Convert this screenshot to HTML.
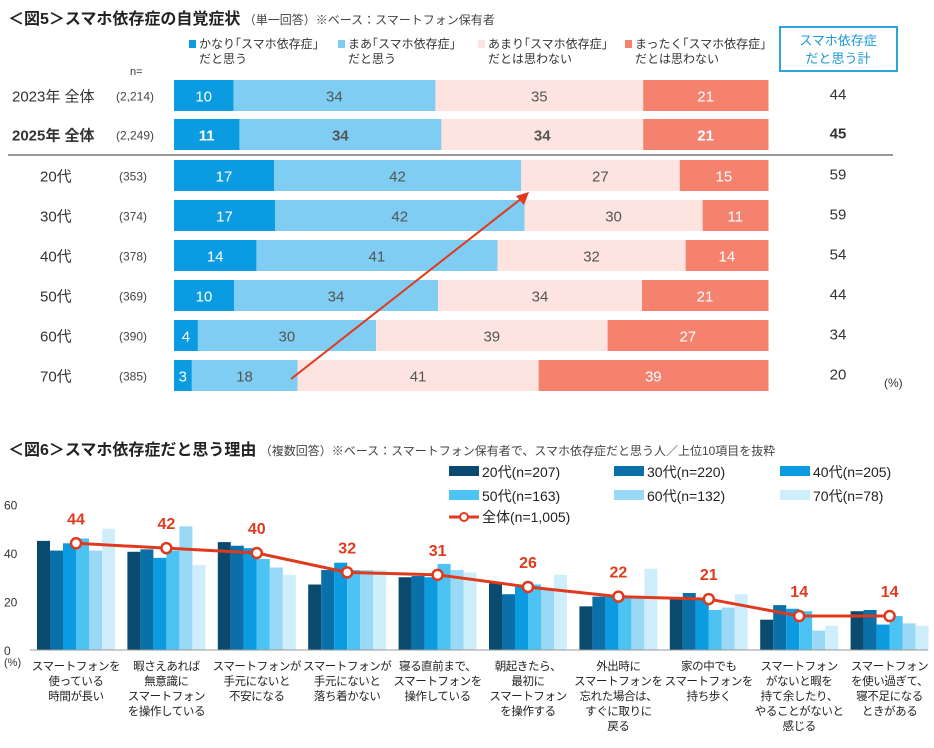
<!DOCTYPE html>
<html><head><meta charset="utf-8"><style>
body{margin:0;background:#fff;}
svg{display:block;font-family:"Liberation Sans","Noto Sans CJK JP",sans-serif;}
</style></head><body>
<svg id="s" width="934" height="748" viewBox="0 0 934 748" xmlns="http://www.w3.org/2000/svg">
<text x="8" y="24" font-size="16" font-weight="bold" fill="#222">＜図5＞スマホ依存症の自覚症状<tspan font-size="12" font-weight="normal" fill="#444"> （単一回答）※ベース：スマートフォン保有者</tspan></text>
<rect x="780" y="27" width="117" height="44" fill="#fff" stroke="#2aa6dc" stroke-width="2"/>
<text x="838" y="45" font-size="13" fill="#1a9ad6" text-anchor="middle">スマホ依存症</text>
<text x="838" y="63" font-size="13" fill="#1a9ad6" text-anchor="middle">だと思う計</text>
<g font-size="12" fill="#333">
<rect x="189" y="40" width="7" height="8" fill="#0a9be0"/><text x="199" y="48">かなり｢スマホ依存症｣</text><text x="199" y="63">だと思う</text>
<rect x="338" y="40" width="7" height="8" fill="#7fcdf2"/><text x="348" y="48">まあ｢スマホ依存症｣</text><text x="348" y="63">だと思う</text>
<rect x="478" y="40" width="7" height="8" fill="#fde4e0"/><text x="488" y="48">あまり｢スマホ依存症｣</text><text x="488" y="63">だとは思わない</text>
<rect x="625" y="40" width="7" height="8" fill="#f4826e"/><text x="635" y="48">まったく｢スマホ依存症｣</text><text x="635" y="63">だとは思わない</text>
<text x="130" y="75" font-size="11">n=</text>
</g>
<line x1="8" y1="155" x2="893" y2="155" stroke="#999" stroke-width="2"/>
<g id="tp"></g>
<g id="bot"></g>
<text x="884" y="387" font-size="12" fill="#333">(%)</text>
<g id="arrow"></g>
<text x="8" y="455" font-size="16" font-weight="bold" fill="#222">＜図6＞スマホ依存症だと思う理由<tspan font-size="12" font-weight="normal" fill="#444"> （複数回答）※ベース：スマートフォン保有者で、スマホ依存症だと思う人／上位10項目を抜粋</tspan></text>
</svg>
<script>
(function(){
const NS="http://www.w3.org/2000/svg";
function el(p,t,a,txt){const e=document.createElementNS(NS,t);for(const k in a)e.setAttribute(k,a[k]);if(txt!==undefined)e.textContent=txt;p.appendChild(e);return e;}
const tp=document.getElementById('tp');
const rows=[["2023年 全体","(2,214)",[10,34,35,21],44,80,false],["2025年 全体","(2,249)",[11,34,34,21],45,119,true],
["20代","(353)",[17,42,27,15],59,160],["30代","(374)",[17,42,30,11],59,200],["40代","(378)",[14,41,32,14],54,240],
["50代","(369)",[10,34,34,21],44,280],["60代","(390)",[4,30,39,27],34,320],["70代","(385)",[3,18,41,39],20,360]];
const cols=["#0a9be0","#7fcdf2","#fde4e0","#f4826e"],tc=["#fff","#555","#555","#fff"];
rows.forEach((r,i)=>{const y=r[4],h=31;const sum=r[2].reduce((a,b)=>a+b);let x=174;const W=594;
 const isAge=i>=2;
 el(tp,'text',{x:isAge?40:12,y:y+h/2+6,'font-size':15,fill:'#333','font-weight':r[5]?'bold':'normal'},r[0]);
 el(tp,'text',{x:isAge?119:116,y:y+h/2+5,'font-size':12,fill:'#444'},r[1]);
 r[2].forEach((v,j)=>{const w=v/sum*W;el(tp,'rect',{x:x,y:y,width:w+0.5,height:h,fill:cols[j]});
  el(tp,'text',{x:x+w/2,y:y+h/2+6,'font-size':15,fill:tc[j],'text-anchor':'middle','font-weight':r[5]?'bold':'normal'},v);x+=w;});
 el(tp,'text',{x:838,y:y+h/2+4,'font-size':15,fill:'#333','text-anchor':'middle','font-weight':r[5]?'bold':'normal'},r[3]);
});
const ar=document.getElementById('arrow');
el(ar,'line',{x1:291,y1:379,x2:522,y2:198,stroke:'#e03a1e','stroke-width':2});
el(ar,'polygon',{points:'529,192 516,196 524,205',fill:'#e03a1e'});
const b=document.getElementById('bot');
const z=650,k=2.425;
[0,20,40,60].forEach(v=>el(b,'text',{x:4,y:z-v*k+5,'font-size':12,fill:'#333'},v));
el(b,'text',{x:4,y:666,'font-size':11,fill:'#333'},'(%)');
const bc=["#0b4a6f","#0b6fa8","#0a9be0","#4cc3f2","#99d9f5","#cfeefb"];
const data=[[45,41,44,46,41,50],[40.5,41.5,38,41,51,35],[44.5,43,42,37.5,34,31],[27,33,36,33,33,33],[30,30.5,30,35.5,33,32],
[27.5,23,26,27,25,31],[18,22,22,22,22,33.5],[21,23.5,21,16.5,17.5,23],[12.5,18.5,17,16,8,10],[16,16.5,10.5,14,11,10]];
const tot=[44,42,40,32,31,26,22,21,14,14];
const labs=[["スマートフォンを","使っている","時間が長い"],["暇さえあれば","無意識に","スマートフォン","を操作している"],["スマートフォンが","手元にないと","不安になる"],["スマートフォンが","手元にないと","落ち着かない"],["寝る直前まで、","スマートフォンを","操作している"],["朝起きたら、","最初に","スマートフォン","を操作する"],["外出時に","スマートフォンを","忘れた場合は、","すぐに取りに","戻る"],["家の中でも","スマートフォンを","持ち歩く"],["スマートフォン","がないと暇を","持て余したり、","やることがないと","感じる"],["スマートフォン","を使い過ぎて、","寝不足になる","ときがある"]];
const pts=[];
data.forEach((g,i)=>{const x0=37+90.4*i;g.forEach((v,j)=>el(b,'rect',{x:x0+j*13,y:z-v*k,width:13,height:v*k,fill:bc[j]}));
 const cx=x0+39;pts.push([cx,z-tot[i]*k]);
 labs[i].forEach((t,m)=>el(b,'text',{x:cx,y:670+m*15,'font-size':11.5,'letter-spacing':-0.4,fill:'#222','text-anchor':'middle'},t));
 el(b,'text',{x:cx,y:z-tot[i]*k-19,'font-size':16,'font-weight':'bold',fill:'#e03a1e','text-anchor':'middle'},tot[i]);});
el(b,'line',{x1:30,y1:z,x2:928,y2:z,stroke:'#999'});
el(b,'polyline',{points:pts.map(p=>p.join(',')).join(' '),fill:'none',stroke:'#e03a1e','stroke-width':3});
pts.forEach(p=>el(b,'circle',{cx:p[0],cy:p[1],r:5,fill:'#fff',stroke:'#e03a1e','stroke-width':2.5}));
const lg=[["20代(n=207)",449,474],["30代(n=220)",614,474],["40代(n=205)",780,474],["50代(n=163)",449,498],["60代(n=132)",614,498],["70代(n=78)",780,498]];
lg.forEach((l,i)=>{el(b,'rect',{x:l[1],y:l[2]-8,width:30,height:10,fill:bc[i]});el(b,'text',{x:l[1]+33,y:l[2]+3,'font-size':14,fill:'#222'},l[0]);});
el(b,'line',{x1:449,y1:517,x2:479,y2:517,stroke:'#e03a1e','stroke-width':3});
el(b,'circle',{cx:464,cy:517,r:4,fill:'#fff',stroke:'#e03a1e','stroke-width':2});
el(b,'text',{x:482,y:522,'font-size':14,fill:'#222'},'全体(n=1,005)');
})();
</script>
</body></html>
